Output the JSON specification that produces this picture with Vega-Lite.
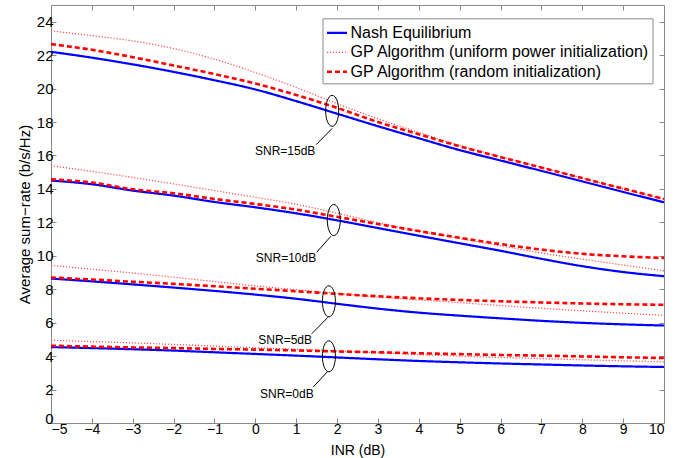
{
 "$schema": "https://vega.github.io/schema/vega-lite/v6.json",
 "width": 613, "height": 418,
 "autosize": {"type": "none"},
 "padding": {"left": 51, "top": 5, "right": 30, "bottom": 35},
 "config": {"font": "Liberation Sans", "view": {"stroke": "#8a8a8a", "strokeWidth": 1}},
 "datasets": {
  "lines": [
   {"s":15,"m":"A","x":-5,"y":22.2},{"s":15,"m":"A","x":-4,"y":21.85},{"s":15,"m":"A","x":-3,"y":21.45},{"s":15,"m":"A","x":-2,"y":21.0},{"s":15,"m":"A","x":-1,"y":20.5},{"s":15,"m":"A","x":0,"y":19.95},{"s":15,"m":"A","x":1,"y":19.25},{"s":15,"m":"A","x":2,"y":18.5},{"s":15,"m":"A","x":3,"y":17.75},{"s":15,"m":"A","x":4,"y":17.03},{"s":15,"m":"A","x":5,"y":16.32},{"s":15,"m":"A","x":6,"y":15.7},{"s":15,"m":"A","x":7,"y":15.08},{"s":15,"m":"A","x":8,"y":14.45},{"s":15,"m":"A","x":9,"y":13.82},{"s":15,"m":"A","x":10,"y":13.2},
   {"s":15,"m":"B","x":-5,"y":23.45},{"s":15,"m":"B","x":-4,"y":23.17},{"s":15,"m":"B","x":-3,"y":22.85},{"s":15,"m":"B","x":-2,"y":22.4},{"s":15,"m":"B","x":-1,"y":21.76},{"s":15,"m":"B","x":0,"y":20.96},{"s":15,"m":"B","x":1,"y":20.07},{"s":15,"m":"B","x":2,"y":19.1},{"s":15,"m":"B","x":3,"y":18.2},{"s":15,"m":"B","x":4,"y":17.38},{"s":15,"m":"B","x":5,"y":16.6},{"s":15,"m":"B","x":6,"y":15.93},{"s":15,"m":"B","x":7,"y":15.3},{"s":15,"m":"B","x":8,"y":14.65},{"s":15,"m":"B","x":9,"y":14.0},{"s":15,"m":"B","x":10,"y":13.38},
   {"s":15,"m":"C","x":-5,"y":22.66},{"s":15,"m":"C","x":-4,"y":22.32},{"s":15,"m":"C","x":-3,"y":21.88},{"s":15,"m":"C","x":-2,"y":21.38},{"s":15,"m":"C","x":-1,"y":20.87},{"s":15,"m":"C","x":0,"y":20.3},{"s":15,"m":"C","x":1,"y":19.62},{"s":15,"m":"C","x":2,"y":18.85},{"s":15,"m":"C","x":3,"y":18.0},{"s":15,"m":"C","x":4,"y":17.27},{"s":15,"m":"C","x":5,"y":16.55},{"s":15,"m":"C","x":6,"y":15.9},{"s":15,"m":"C","x":7,"y":15.28},{"s":15,"m":"C","x":8,"y":14.65},{"s":15,"m":"C","x":9,"y":14.02},{"s":15,"m":"C","x":10,"y":13.4},
   {"s":10,"m":"A","x":-5,"y":14.5},{"s":10,"m":"A","x":-4,"y":14.28},{"s":10,"m":"A","x":-3,"y":13.9},{"s":10,"m":"A","x":-2,"y":13.6},{"s":10,"m":"A","x":-1,"y":13.22},{"s":10,"m":"A","x":0,"y":12.9},{"s":10,"m":"A","x":1,"y":12.54},{"s":10,"m":"A","x":2,"y":12.12},{"s":10,"m":"A","x":3,"y":11.66},{"s":10,"m":"A","x":4,"y":11.2},{"s":10,"m":"A","x":5,"y":10.75},{"s":10,"m":"A","x":6,"y":10.3},{"s":10,"m":"A","x":7,"y":9.82},{"s":10,"m":"A","x":8,"y":9.38},{"s":10,"m":"A","x":9,"y":9.03},{"s":10,"m":"A","x":10,"y":8.78},
   {"s":10,"m":"B","x":-5,"y":15.39},{"s":10,"m":"B","x":-4,"y":15.05},{"s":10,"m":"B","x":-3,"y":14.69},{"s":10,"m":"B","x":-2,"y":14.3},{"s":10,"m":"B","x":-1,"y":13.9},{"s":10,"m":"B","x":0,"y":13.5},{"s":10,"m":"B","x":1,"y":13.08},{"s":10,"m":"B","x":2,"y":12.55},{"s":10,"m":"B","x":3,"y":11.98},{"s":10,"m":"B","x":4,"y":11.47},{"s":10,"m":"B","x":5,"y":11.03},{"s":10,"m":"B","x":6,"y":10.6},{"s":10,"m":"B","x":7,"y":10.17},{"s":10,"m":"B","x":8,"y":9.8},{"s":10,"m":"B","x":9,"y":9.45},{"s":10,"m":"B","x":10,"y":9.1},
   {"s":10,"m":"C","x":-5,"y":14.57},{"s":10,"m":"C","x":-4,"y":14.38},{"s":10,"m":"C","x":-3,"y":13.98},{"s":10,"m":"C","x":-2,"y":13.74},{"s":10,"m":"C","x":-1,"y":13.4},{"s":10,"m":"C","x":0,"y":13.1},{"s":10,"m":"C","x":1,"y":12.76},{"s":10,"m":"C","x":2,"y":12.33},{"s":10,"m":"C","x":3,"y":11.9},{"s":10,"m":"C","x":4,"y":11.48},{"s":10,"m":"C","x":5,"y":11.08},{"s":10,"m":"C","x":6,"y":10.7},{"s":10,"m":"C","x":7,"y":10.37},{"s":10,"m":"C","x":8,"y":10.12},{"s":10,"m":"C","x":9,"y":9.97},{"s":10,"m":"C","x":10,"y":9.87},
   {"s":5,"m":"A","x":-5,"y":8.64},{"s":5,"m":"A","x":-4,"y":8.47},{"s":5,"m":"A","x":-3,"y":8.29},{"s":5,"m":"A","x":-2,"y":8.1},{"s":5,"m":"A","x":-1,"y":7.9},{"s":5,"m":"A","x":0,"y":7.68},{"s":5,"m":"A","x":1,"y":7.43},{"s":5,"m":"A","x":2,"y":7.13},{"s":5,"m":"A","x":3,"y":6.84},{"s":5,"m":"A","x":4,"y":6.6},{"s":5,"m":"A","x":5,"y":6.42},{"s":5,"m":"A","x":6,"y":6.26},{"s":5,"m":"A","x":7,"y":6.11},{"s":5,"m":"A","x":8,"y":5.99},{"s":5,"m":"A","x":9,"y":5.9},{"s":5,"m":"A","x":10,"y":5.83},
   {"s":5,"m":"B","x":-5,"y":9.42},{"s":5,"m":"B","x":-4,"y":9.2},{"s":5,"m":"B","x":-3,"y":8.97},{"s":5,"m":"B","x":-2,"y":8.72},{"s":5,"m":"B","x":-1,"y":8.46},{"s":5,"m":"B","x":0,"y":8.2},{"s":5,"m":"B","x":1,"y":7.97},{"s":5,"m":"B","x":2,"y":7.75},{"s":5,"m":"B","x":3,"y":7.53},{"s":5,"m":"B","x":4,"y":7.36},{"s":5,"m":"B","x":5,"y":7.2},{"s":5,"m":"B","x":6,"y":7.02},{"s":5,"m":"B","x":7,"y":6.86},{"s":5,"m":"B","x":8,"y":6.71},{"s":5,"m":"B","x":9,"y":6.57},{"s":5,"m":"B","x":10,"y":6.44},
   {"s":5,"m":"C","x":-5,"y":8.7},{"s":5,"m":"C","x":-4,"y":8.58},{"s":5,"m":"C","x":-3,"y":8.45},{"s":5,"m":"C","x":-2,"y":8.32},{"s":5,"m":"C","x":-1,"y":8.18},{"s":5,"m":"C","x":0,"y":8.03},{"s":5,"m":"C","x":1,"y":7.88},{"s":5,"m":"C","x":2,"y":7.72},{"s":5,"m":"C","x":3,"y":7.58},{"s":5,"m":"C","x":4,"y":7.46},{"s":5,"m":"C","x":5,"y":7.36},{"s":5,"m":"C","x":6,"y":7.28},{"s":5,"m":"C","x":7,"y":7.21},{"s":5,"m":"C","x":8,"y":7.15},{"s":5,"m":"C","x":9,"y":7.1},{"s":5,"m":"C","x":10,"y":7.07},
   {"s":0,"m":"A","x":-5,"y":4.54},{"s":0,"m":"A","x":-4,"y":4.48},{"s":0,"m":"A","x":-3,"y":4.41},{"s":0,"m":"A","x":-2,"y":4.33},{"s":0,"m":"A","x":-1,"y":4.23},{"s":0,"m":"A","x":0,"y":4.13},{"s":0,"m":"A","x":1,"y":4.03},{"s":0,"m":"A","x":2,"y":3.92},{"s":0,"m":"A","x":3,"y":3.81},{"s":0,"m":"A","x":4,"y":3.71},{"s":0,"m":"A","x":5,"y":3.63},{"s":0,"m":"A","x":6,"y":3.56},{"s":0,"m":"A","x":7,"y":3.5},{"s":0,"m":"A","x":8,"y":3.44},{"s":0,"m":"A","x":9,"y":3.39},{"s":0,"m":"A","x":10,"y":3.35},
   {"s":0,"m":"B","x":-5,"y":4.95},{"s":0,"m":"B","x":-4,"y":4.87},{"s":0,"m":"B","x":-3,"y":4.79},{"s":0,"m":"B","x":-2,"y":4.7},{"s":0,"m":"B","x":-1,"y":4.6},{"s":0,"m":"B","x":0,"y":4.5},{"s":0,"m":"B","x":1,"y":4.41},{"s":0,"m":"B","x":2,"y":4.31},{"s":0,"m":"B","x":3,"y":4.2},{"s":0,"m":"B","x":4,"y":4.09},{"s":0,"m":"B","x":5,"y":4.0},{"s":0,"m":"B","x":6,"y":3.92},{"s":0,"m":"B","x":7,"y":3.85},{"s":0,"m":"B","x":8,"y":3.78},{"s":0,"m":"B","x":9,"y":3.72},{"s":0,"m":"B","x":10,"y":3.65},
   {"s":0,"m":"C","x":-5,"y":4.62},{"s":0,"m":"C","x":-4,"y":4.57},{"s":0,"m":"C","x":-3,"y":4.52},{"s":0,"m":"C","x":-2,"y":4.48},{"s":0,"m":"C","x":-1,"y":4.43},{"s":0,"m":"C","x":0,"y":4.39},{"s":0,"m":"C","x":1,"y":4.34},{"s":0,"m":"C","x":2,"y":4.28},{"s":0,"m":"C","x":3,"y":4.23},{"s":0,"m":"C","x":4,"y":4.17},{"s":0,"m":"C","x":5,"y":4.12},{"s":0,"m":"C","x":6,"y":4.07},{"s":0,"m":"C","x":7,"y":4.03},{"s":0,"m":"C","x":8,"y":3.98},{"s":0,"m":"C","x":9,"y":3.93},{"s":0,"m":"C","x":10,"y":3.89}
  ],
  "notes": [
   {"label":"SNR=15dB","ex":1.88,"ey":18.67,"lx1":1.88,"ly1":17.62,"lx2":1.49,"ly2":16.65,"tx":0.73,"ty":16.26},
   {"label":"SNR=10dB","ex":1.92,"ey":12.14,"lx1":1.85,"ly1":11.17,"lx2":1.5,"ly2":10.21,"tx":0.75,"ty":9.87},
   {"label":"SNR=5dB","ex":1.8,"ey":7.28,"lx1":1.78,"ly1":6.33,"lx2":1.38,"ly2":5.34,"tx":0.73,"ty":4.94},
   {"label":"SNR=0dB","ex":1.8,"ey":3.99,"lx1":1.78,"ly1":3.11,"lx2":1.42,"ly2":2.16,"tx":0.77,"ty":1.76}
  ]
 },
 "layer": [
  {
   "data": {"name": "lines"},
   "mark": {"type": "line", "interpolate": "monotone"},
   "encoding": {
    "x": {"field": "x", "type": "quantitative", "scale": {"domain": [-5, 10], "nice": false, "zero": false},
     "axis": {"orient": "bottom", "values": [-5,-4,-3,-2,-1,0,1,2,3,4,5,6,7,8,9,10], "domain": false, "grid": false, "tickSize": -5, "tickColor": "#8a8a8a", "labelPadding": 4, "labelFontSize": 14, "labelColor": "#000", "title": "INR (dB)", "titleFontSize": 14, "titleFontWeight": "normal", "titleColor": "#000", "titleY": 31, "titleBaseline": "alphabetic"}},
    "y": {"field": "y", "type": "quantitative", "scale": {"domain": [0, 25], "nice": false, "zero": false},
     "axis": {"orient": "left", "values": [0,2,4,6,8,10,12,14,16,18,20,22,24], "domain": false, "grid": false, "tickSize": -5, "tickColor": "#8a8a8a", "labelPadding": 3, "labelFontSize": 15, "labelColor": "#000", "labelFlush": true, "labelFlushOffset": 3, "title": "Average sum−rate (b/s/Hz)", "titleFontSize": 15, "titleFontWeight": "normal", "titleColor": "#000", "titleX": -22, "titleY": 209, "titleBaseline": "alphabetic", "titleAlign": "center", "titleAngle": -90}},
    "detail": {"field": "s"},
    "color": {"field": "m", "type": "nominal", "scale": {"domain": ["A","B","C"], "range": ["#0000ff","#ff4a4a","#ff0000"]},
     "legend": {"orient": "none", "legendX": 271.5, "legendY": 13.3, "title": null, "symbolType": "stroke", "symbolSize": 400, "labelFontSize": 16, "labelColor": "#000", "labelOffset": 2, "padding": 3, "rowPadding": 0, "strokeColor": "#8a8a8a", "fillColor": "#ffffff", "labelLimit": 400,
      "labelExpr": "datum.value == 'A' ? 'Nash Equilibrium' : datum.value == 'B' ? 'GP Algorithm (uniform power initialization)' : 'GP Algorithm (random initialization)'"}},
    "strokeDash": {"field": "m", "type": "nominal", "scale": {"domain": ["A","B","C"], "range": [[1,0],[1.2,1.8],[5,3]]},
     "legend": {"orient": "none", "legendX": 271.5, "legendY": 13.3, "title": null, "symbolType": "stroke", "symbolSize": 400, "labelFontSize": 16, "labelColor": "#000", "labelOffset": 2, "padding": 3, "rowPadding": 0, "strokeColor": "#8a8a8a", "fillColor": "#ffffff", "labelLimit": 400,
      "labelExpr": "datum.value == 'A' ? 'Nash Equilibrium' : datum.value == 'B' ? 'GP Algorithm (uniform power initialization)' : 'GP Algorithm (random initialization)'"}},
    "strokeWidth": {"field": "m", "type": "ordinal", "scale": {"type": "ordinal", "domain": ["A","B","C"], "range": [2.2, 1.2, 2.6]},
     "legend": {"orient": "none", "legendX": 271.5, "legendY": 13.3, "title": null, "symbolType": "stroke", "symbolSize": 400, "labelFontSize": 16, "labelColor": "#000", "labelOffset": 2, "padding": 3, "rowPadding": 0, "strokeColor": "#8a8a8a", "fillColor": "#ffffff", "labelLimit": 400,
      "labelExpr": "datum.value == 'A' ? 'Nash Equilibrium' : datum.value == 'B' ? 'GP Algorithm (uniform power initialization)' : 'GP Algorithm (random initialization)'"}}
   }
  },
  {
   "data": {"name": "notes"},
   "mark": {"type": "point", "shape": "M0,-1A0.42,1,0,1,1,0,1A0.42,1,0,1,1,0,-1Z", "size": 961, "filled": false, "stroke": "#000000", "strokeWidth": 1, "opacity": 1},
   "encoding": {
    "x": {"field": "ex", "type": "quantitative", "axis": null},
    "y": {"field": "ey", "type": "quantitative", "axis": null}
   }
  },
  {
   "data": {"name": "notes"},
   "mark": {"type": "rule", "color": "#000000", "strokeWidth": 1},
   "encoding": {
    "x": {"field": "lx1", "type": "quantitative", "axis": {"orient": "top", "values": [-5,-4,-3,-2,-1,0,1,2,3,4,5,6,7,8,9,10], "labels": false, "title": null, "domain": false, "grid": false, "tickSize": -5, "tickColor": "#8a8a8a"}},
    "y": {"field": "ly1", "type": "quantitative", "axis": {"orient": "right", "values": [0,2,4,6,8,10,12,14,16,18,20,22,24], "labels": false, "title": null, "domain": false, "grid": false, "tickSize": -5, "tickColor": "#8a8a8a"}},
    "x2": {"field": "lx2"},
    "y2": {"field": "ly2"}
   }
  },
  {
   "data": {"name": "notes"},
   "mark": {"type": "text", "fontSize": 12, "color": "#000000", "align": "center", "baseline": "middle"},
   "encoding": {
    "x": {"field": "tx", "type": "quantitative", "axis": null},
    "y": {"field": "ty", "type": "quantitative", "axis": null},
    "text": {"field": "label"}
   }
  }
 ],
 "resolve": {"axis": {"x": "independent", "y": "independent"}}
}
